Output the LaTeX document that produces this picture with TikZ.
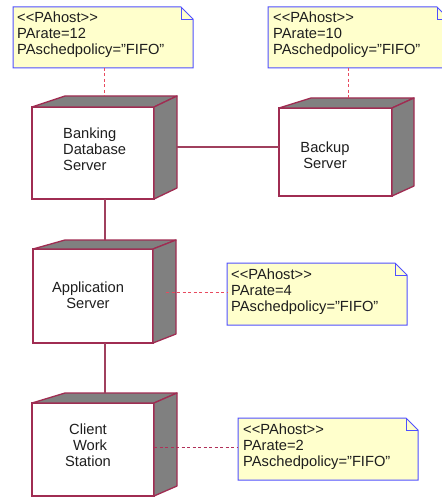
\documentclass[tikz,border=0pt]{standalone}
\usepackage{fontspec}
\setmainfont{Liberation Sans}
\usetikzlibrary{calc}
\definecolor{nodeborder}{HTML}{A02C52}
\definecolor{facegray}{HTML}{808080}
\definecolor{notefill}{HTML}{FFFFCC}
\definecolor{noteborder}{HTML}{5050FF}
\definecolor{dashred}{HTML}{E84A5F}
\definecolor{dashdark}{HTML}{B03058}
\definecolor{conn}{HTML}{A0405E}
\definecolor{txt}{HTML}{1E1E1E}
\tikzset{
  nodefront/.style={draw=nodeborder, line width=1.3pt, fill=white, inner sep=0, outer sep=0},
  facestyle/.style={draw=nodeborder, line width=1.3pt, fill=facegray, line join=round},
  noteframe/.style={inner sep=0, outer sep=0},
  notedraw/.style={draw=noteborder, line width=1pt, fill=notefill},
  foldline/.style={draw=noteborder, line width=0.8pt},
  notetext/.style={anchor=north west, align=left, inner sep=0, text=txt, font=\fontsize{14.7}{16}\selectfont},
  nodetext/.style={inner sep=0, text=txt, font=\fontsize{14.7}{16}\selectfont},
  dashline/.style={draw=dashred, line width=1pt, dash pattern=on 3pt off 2.5pt},
  dashline2/.style={draw=dashdark, line width=1pt, dash pattern=on 3pt off 2.5pt},
  solidline/.style={draw=conn, line width=1.2pt},
}
\newcommand\depfaces[4]{% name, dxleft, dxright, dy
  \path[facestyle] (#1.north west) -- ($(#1.north west)+(#2,-#4)$) -- ($(#1.north east)+(#3,-#4)$) -- (#1.north east) -- cycle;
  \path[facestyle] (#1.north east) -- ($(#1.north east)+(#3,-#4)$) -- ($(#1.south east)+(#3,-#4)$) -- (#1.south east) -- cycle;
}
\newcommand\notepath[1]{%
  \path[notedraw] (#1.north west) -- ($(#1.north east)+(-12,0)$) -- ($(#1.north east)+(0,12)$) -- (#1.south east) -- (#1.south west) -- cycle;
  \path[foldline] ($(#1.north east)+(-12,0)$) -- ($(#1.north east)+(-12,12)$) -- ($(#1.north east)+(0,12)$);
}
\newcommand\pahost{{<}{<}PAhost{>}{>}}
\begin{document}
\begin{tikzpicture}[x=1pt,y=-1pt]
\useasboundingbox (0,0) rectangle (441,497);
\fill[white] (0,0) rectangle (441,497);

% notes
\node[noteframe, minimum width=180, minimum height=61] (n1) at (103,37.5) {};
\notepath{n1}
\node[notetext] (n1t) at ($(n1.north west)+(4,4.5)$) {\pahost\\PArate=12\\PAschedpolicy="FIFO"};

\node[noteframe, minimum width=181, minimum height=61] (n2) at (358.5,37.5) {};
\notepath{n2}
\node[notetext] (n2t) at ($(n2.north west)+(5,4.5)$) {\pahost\\PArate=10\\PAschedpolicy="FIFO"};

\node[noteframe, minimum width=180, minimum height=62] (n3) at (317,294) {};
\notepath{n3}
\node[notetext] (n3t) at ($(n3.north west)+(4,5.5)$) {\pahost\\PArate=4\\PAschedpolicy="FIFO"};

\node[noteframe, minimum width=180, minimum height=62] (n4) at (328,449) {};
\notepath{n4}
\node[notetext] (n4t) at ($(n4.north west)+(5,5.5)$) {\pahost\\PArate=2\\PAschedpolicy="FIFO"};

% nodes
\node[nodefront, minimum width=122, minimum height=92] (bank) at (93,153) {};
\depfaces{bank}{33}{23}{11}
\node[nodetext, anchor=west, align=left] (bankt) at (63,149.5) {Banking\\Database\\Server};

\node[nodefront, minimum width=113, minimum height=88] (bu) at (335.5,152) {};
\depfaces{bu}{32}{22}{10}
\node[nodetext, align=center] (but) at (325,155) {Backup\\Server};

\node[nodefront, minimum width=120, minimum height=94] (app) at (93,296) {};
\depfaces{app}{32}{23}{9}
\node[nodetext, align=center] (appt) at (88,295) {Application\\Server};

\node[nodefront, minimum width=122, minimum height=93] (cl) at (93,449.5) {};
\depfaces{cl}{33}{23}{10}
\node[nodetext, align=center] (clt) at (88,445) {Client\\\ Work\\Station};

% connector end points
\coordinate (bk1) at (104,96);
\coordinate (bu1) at (348,98);
\coordinate (ap1) at (166,292);
\coordinate (cl1) at (154,447);
\coordinate (bk2) at (177,147);
\coordinate (ap2) at (105,241);
\coordinate (cl2) at (105,393);

% dashed note links
\path[dashline] (n1.south -| bk1) -- (bk1);
\path[dashline] (n2.south -| bu1) -- (bu1);
\path[dashline] (ap1) -- (n3.west |- ap1);
\path[dashline2] (cl1) -- (n4.west |- cl1);

% solid links
\path[solidline] (bk2) -- (bu.west |- bk2);
\path[solidline] (bank.south -| ap2) -- (ap2);
\path[solidline] (app.south -| cl2) -- (cl2);
\end{tikzpicture}
\end{document}
